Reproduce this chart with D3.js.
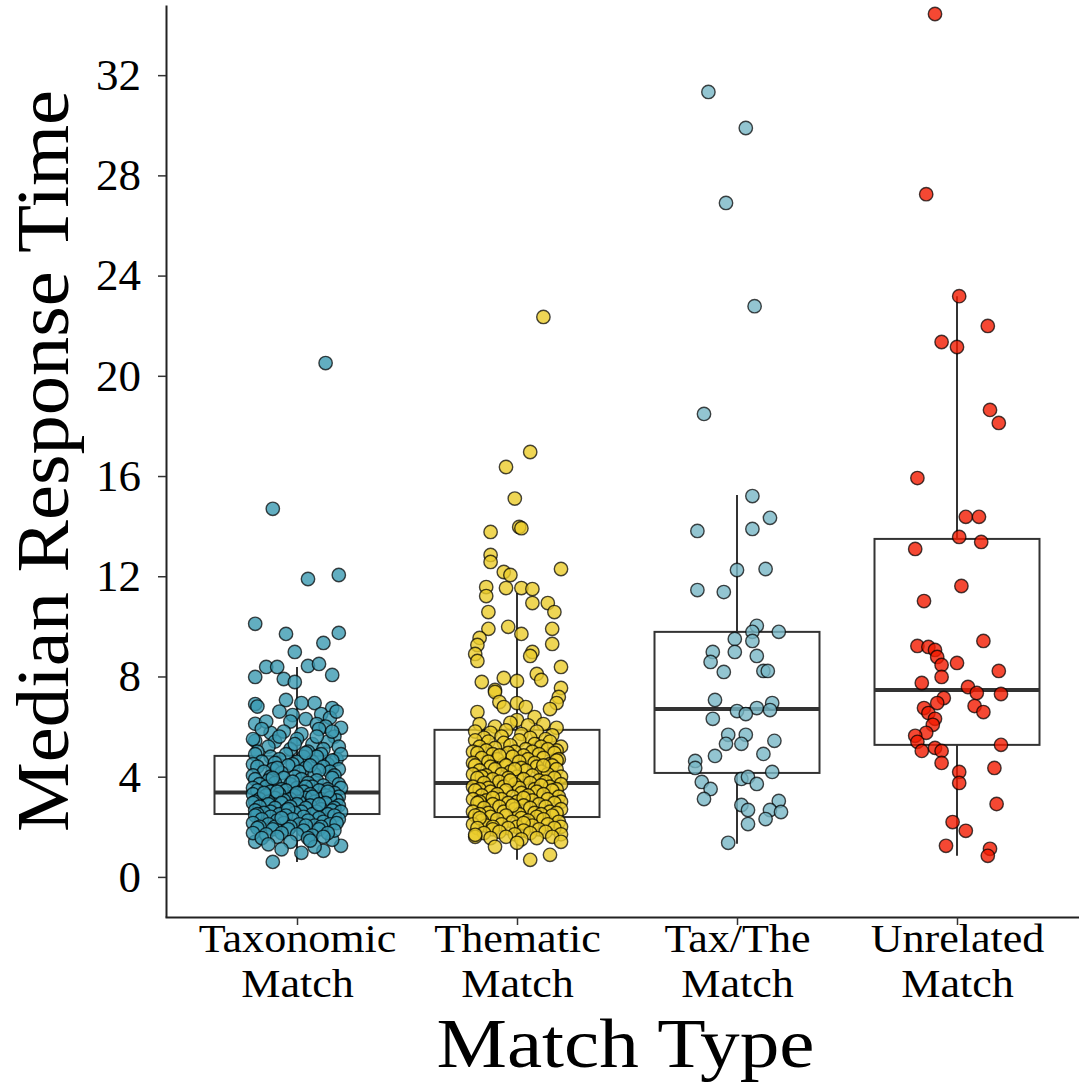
<!DOCTYPE html>
<html>
<head>
<meta charset="utf-8">
<script src="https://cdn.jsdelivr.net/npm/d3@7"></script>
<style>
  html, body { margin: 0; padding: 0; background: #ffffff; }
  svg { display: block; }
  text { font-family: "Liberation Serif", "DejaVu Serif", serif; fill: #000; }
</style>
</head>
<body>
<svg id="chart" width="1079" height="1082"></svg>
<script>
// ---- data -------------------------------------------------------------
const categories = ["Taxonomic Match", "Thematic Match", "Tax/The Match", "Unrelated Match"];
const categoryLines = [["Taxonomic", "Match"], ["Thematic", "Match"], ["Tax/The", "Match"], ["Unrelated", "Match"]];
const yTicks = [0, 4, 8, 12, 16, 20, 24, 28, 32];

// boxplot summaries: [lower whisker, Q1, median, Q3, upper whisker]
const taxonomicBox = [0.60, 2.51, 3.37, 4.83, 8.38];
const thematicBox  = [0.68, 2.39, 3.75, 5.87, 11.33];
const taxTheBox    = [1.32, 4.15, 6.70, 9.78, 15.24];
const unrelatedBox = [0.84, 5.27, 7.46, 13.49, 23.18];

// observations: [horizontal jitter in category units, median response time]
const taxonomicPoints = [
  [0.13,20.51],[-0.11,14.69],[0.05,11.89],[0.19,12.05],[-0.19,10.10],[-0.05,9.70],[0.19,9.74],[0.12,9.34],
  [-0.01,8.98],[-0.14,8.38],[-0.09,8.38],[0.05,8.42],[0.10,8.50],[0.16,8.06],[-0.19,7.98],[-0.06,7.90],[-0.01,7.78],
  [-0.19,6.90],[-0.18,6.80],[-0.05,7.06],[0.08,6.94],[0.02,6.94],[0.16,6.74],[0.11,6.50],[0.15,6.35],[-0.02,6.46],
  [-0.19,6.11],[0.20,5.95],[-0.19,5.43],[-0.12,5.75],
  [-0.19,1.40],[-0.11,0.60],[0.02,0.96],[0.12,1.04],[0.20,1.24],[0.16,1.48],
  [-0.08,6.6],[0.04,6.3],[-0.14,6.2],[0.09,6.1],[0.18,6.6],[-0.03,6.2],[0.13,6.0],
  [-0.16,5.9],[-0.06,5.8],[0.02,5.7],[0.10,5.9],[0.17,5.6],[-0.20,5.5],[-0.10,5.4],[0.00,5.5],[0.07,5.3],[0.14,5.4],
  [-0.13,5.2],[-0.03,5.1],[0.05,5.0],[0.12,5.1],[0.19,5.2],[-0.18,5.0],[-0.08,5.6],[0.16,5.8],[-0.01,5.3],[0.09,5.6],
  [-0.19,4.9],[-0.12,4.8],[-0.05,4.9],[0.03,4.8],[0.11,4.9],[0.18,4.7],[-0.16,4.6],[-0.08,4.7],[0.00,4.6],[0.07,4.6],
  [0.14,4.5],[0.20,4.9],[-0.20,4.5],[-0.02,4.5],[0.09,4.8],[-0.10,4.55],[0.16,4.65],[0.04,4.95],
  [-0.18,4.4],[-0.11,4.3],[-0.04,4.45],[0.04,4.35],[0.12,4.4],[0.19,4.3],[-0.15,4.2],[-0.07,4.15],[0.01,4.2],[0.08,4.1],
  [0.15,4.2],[-0.20,4.05],[-0.12,4.0],[-0.01,4.0],[0.06,4.45],[0.17,4.05],[-0.09,4.35],[0.10,4.25],
  [-0.19,3.9],[-0.13,3.85],[-0.06,3.95],[0.02,3.9],[0.09,3.85],[0.16,3.95],[-0.17,3.7],[-0.10,3.75],[-0.03,3.7],
  [0.05,3.75],[0.12,3.65],[0.19,3.7],[-0.20,3.55],[-0.14,3.6],[-0.07,3.5],[0.00,3.55],[0.07,3.6],[0.14,3.5],[0.20,3.55],
  [-0.11,3.95],[0.04,3.6],[-0.02,3.8],
  [-0.18,3.45],[-0.12,3.4],[-0.05,3.45],[0.03,3.4],[0.10,3.45],[0.17,3.35],[-0.20,3.3],[-0.14,3.25],[-0.08,3.3],
  [-0.01,3.25],[0.06,3.3],[0.13,3.25],[0.19,3.2],[-0.17,3.1],[-0.10,3.15],[-0.03,3.1],[0.04,3.15],[0.11,3.1],[0.18,3.05],
  [-0.19,3.0],[-0.13,3.0],[-0.06,3.05],[0.01,3.0],[0.08,3.0],[0.15,3.15],[-0.09,3.4],[0.14,3.4],[-0.15,3.35],[0.00,3.35],[0.07,3.2],
  [-0.20,2.95],[-0.13,2.9],[-0.07,2.95],[0.00,2.9],[0.06,2.85],[0.13,2.95],[0.19,2.85],[-0.17,2.8],[-0.10,2.75],
  [-0.03,2.8],[0.04,2.75],[0.11,2.7],[0.17,2.75],[-0.19,2.65],[-0.12,2.6],[-0.05,2.65],[0.02,2.6],[0.09,2.6],[0.16,2.65],
  [-0.15,2.55],[-0.08,2.5],[-0.01,2.55],[0.07,2.5],[0.14,2.5],[0.20,2.6],[-0.04,2.7],[0.10,2.9],[-0.18,2.5],
  [-0.19,2.45],[-0.12,2.4],[-0.05,2.45],[0.03,2.4],[0.10,2.35],[0.17,2.45],[-0.16,2.3],[-0.09,2.25],[-0.02,2.3],
  [0.05,2.25],[0.12,2.2],[0.19,2.3],[-0.20,2.15],[-0.13,2.1],[-0.06,2.15],[0.01,2.1],[0.08,2.05],[0.15,2.1],
  [-0.17,2.0],[-0.10,2.0],[-0.03,2.0],[0.04,2.05],[0.11,2.0],[0.18,2.15],[-0.07,2.35],
  [-0.18,1.95],[-0.11,1.9],[-0.04,1.9],[0.03,1.85],[0.10,1.9],[0.17,1.85],[-0.20,1.75],[-0.14,1.7],[-0.07,1.75],
  [0.00,1.7],[0.07,1.65],[0.14,1.75],[-0.16,1.55],[-0.09,1.6],[0.05,1.55],[0.12,1.6],
  [-0.13,1.3],[-0.03,1.4],[0.08,1.2],[0.06,1.45],[-0.07,1.1]
];

const thematicPoints = [
  [0.12,22.35],[0.06,16.96],[-0.05,16.36],[-0.01,15.10],[-0.12,13.77],[0.01,13.97],[0.02,13.92],[-0.12,12.85],
  [-0.12,12.57],[-0.06,12.17],[-0.03,12.05],[0.20,12.29],[-0.14,11.57],[-0.14,11.21],[-0.05,11.53],[0.02,11.53],
  [0.07,11.49],[0.07,10.93],[0.14,10.93],[0.17,10.57],[-0.13,10.57],[-0.13,9.90],[-0.04,9.98],[0.02,9.70],[0.16,9.90],
  [-0.17,9.54],[-0.18,9.26],[-0.19,8.90],[-0.18,8.62],[0.07,8.98],[0.06,8.82],[0.16,9.30],[0.20,8.38],[-0.16,7.78],
  [-0.06,7.94],[0.00,7.82],[0.09,8.10],[0.11,7.86],[-0.10,7.46],[0.20,7.54],[-0.10,7.38],[0.19,7.18],[0.18,6.94],
  [-0.08,6.98],[-0.06,6.78],[0.00,6.94],[0.04,6.78],[0.15,6.70],[-0.18,6.58],[0.08,6.38],[0.00,6.26],
  [-0.17,6.1],[-0.10,6.0],[-0.03,6.15],[0.05,6.05],[0.12,6.1],[0.18,5.95],[-0.19,5.8],[-0.12,5.75],[-0.05,5.85],
  [0.02,5.7],[0.09,5.8],[0.16,5.65],[-0.15,5.55],[-0.07,5.6],[0.06,5.55],[0.13,5.5],
  [-0.19,5.45],[-0.13,5.4],[-0.06,5.35],[0.01,5.45],[0.08,5.3],[0.15,5.4],[0.20,5.2],[-0.17,5.2],[-0.10,5.15],
  [-0.03,5.25],[0.04,5.1],[0.11,5.2],[0.18,5.05],[-0.20,5.0],[-0.14,5.05],[-0.01,5.0],[0.07,5.0],[0.14,5.1],
  [-0.18,4.95],[-0.11,4.9],[-0.04,4.95],[0.03,4.85],[0.10,4.9],[0.17,4.95],[-0.16,4.75],[-0.09,4.7],[-0.02,4.8],
  [0.05,4.7],[0.12,4.75],[0.19,4.7],[-0.20,4.55],[-0.13,4.6],[-0.06,4.5],[0.01,4.6],[0.08,4.55],[0.15,4.5],[0.18,4.65],[-0.08,4.85],
  [-0.19,4.45],[-0.12,4.4],[-0.05,4.45],[0.02,4.35],[0.09,4.4],[0.16,4.45],[-0.17,4.25],[-0.10,4.3],[-0.03,4.2],
  [0.04,4.25],[0.11,4.2],[0.18,4.3],[-0.20,4.1],[-0.14,4.05],[-0.07,4.1],[0.00,4.0],[0.07,4.05],[0.14,4.1],[0.20,4.0],
  [-0.01,4.3],[0.12,4.45],[-0.16,4.0],
  [-0.18,3.95],[-0.11,3.9],[-0.04,3.95],[0.03,3.9],[0.10,3.85],[0.17,3.95],[-0.15,3.75],[-0.08,3.8],[-0.01,3.7],
  [0.06,3.75],[0.13,3.8],[0.20,3.7],[-0.20,3.6],[-0.13,3.55],[-0.06,3.6],[0.01,3.55],[0.08,3.5],[0.15,3.6],
  [-0.17,3.5],[-0.03,3.85],[0.11,3.65],[0.18,3.5],
  [-0.19,3.45],[-0.12,3.4],[-0.05,3.45],[0.02,3.35],[0.09,3.4],[0.16,3.45],[-0.16,3.25],[-0.09,3.3],[-0.02,3.2],
  [0.05,3.25],[0.12,3.3],[0.19,3.2],[-0.20,3.1],[-0.14,3.05],[-0.07,3.1],[0.00,3.0],[0.07,3.05],[0.14,3.1],[0.20,3.0],
  [-0.11,3.15],[0.03,3.15],[-0.17,3.0],
  [-0.18,2.95],[-0.11,2.9],[-0.04,2.95],[0.03,2.85],[0.10,2.9],[0.17,2.95],[-0.15,2.75],[-0.08,2.8],[-0.01,2.7],
  [0.06,2.75],[0.13,2.8],[0.20,2.7],[-0.20,2.6],[-0.13,2.55],[-0.06,2.6],[0.01,2.5],[0.08,2.55],[0.15,2.6],
  [-0.17,2.5],[0.11,2.5],[-0.02,2.85],[0.18,2.55],
  [-0.19,2.45],[-0.12,2.4],[-0.05,2.45],[0.02,2.35],[0.09,2.4],[0.16,2.45],[-0.16,2.25],[-0.09,2.3],[-0.02,2.2],
  [0.05,2.25],[0.12,2.3],[0.19,2.2],[-0.20,2.1],[-0.14,2.05],[-0.07,2.1],[0.00,2.0],[0.07,2.05],[0.14,2.1],[0.20,2.0],
  [-0.11,2.0],[0.03,2.15],[-0.17,2.35],
  [-0.18,1.95],[-0.11,1.9],[-0.04,1.95],[0.03,1.85],[0.10,1.9],[0.17,1.95],[-0.15,1.75],[-0.08,1.8],[-0.01,1.7],
  [0.06,1.75],[0.13,1.8],[0.20,1.7],[-0.19,1.6],[-0.12,1.55],[-0.05,1.6],[0.02,1.5],[0.09,1.55],[0.16,1.6],
  [-0.19,1.68],[-0.10,1.20],[0.00,1.36],[0.20,1.40],[0.15,0.88],[0.06,0.68]
];

const taxThePoints = [
  [-0.13,31.33],[0.04,29.89],[-0.05,26.90],[0.08,22.78],[-0.15,18.48],
  [0.07,15.20],[0.15,14.33],[-0.18,13.81],[0.07,13.89],[0.00,12.25],[0.13,12.29],[-0.18,11.45],[-0.06,11.37],
  [0.09,10.02],[0.07,9.78],[0.19,9.78],[0.07,9.42],[-0.01,9.50],[-0.11,8.98],[-0.01,8.98],[0.09,8.82],[-0.12,8.58],
  [-0.06,8.18],[0.12,8.22],[0.14,8.22],[-0.10,7.06],[0.16,6.94],[0.09,6.74],[0.15,6.66],[0.00,6.62],[0.04,6.50],
  [-0.11,6.31],[-0.04,5.67],[0.04,5.67],[-0.05,5.31],[0.02,5.31],[0.17,5.43],[-0.10,4.83],[0.12,4.91],[-0.19,4.63],
  [-0.19,4.35],[0.16,4.19],[0.02,3.91],[0.05,3.99],[0.09,3.71],[-0.16,3.79],[-0.12,3.51],[-0.15,3.11],[0.02,2.87],
  [0.05,2.67],[0.19,3.03],[0.15,2.67],[0.20,2.59],[0.13,2.31],[0.05,2.11],[-0.04,1.36]
];

const unrelatedPoints = [
  [-0.10,34.44],[-0.14,27.25],[0.01,23.18],[0.14,21.99],[-0.07,21.35],[0.00,21.15],[0.15,18.64],[0.19,18.12],
  [-0.18,15.92],[0.04,14.37],[0.10,14.37],[0.01,13.57],[0.11,13.37],[-0.19,13.09],[0.02,11.61],[-0.15,11.01],
  [-0.18,9.22],[-0.13,9.18],[-0.10,9.06],[-0.09,8.78],[-0.07,8.46],[0.12,9.42],[0.00,8.54],[0.19,8.22],[-0.07,7.98],
  [-0.16,7.74],[0.05,7.58],[0.09,7.34],[0.20,7.30],[-0.06,7.14],[-0.09,6.94],[-0.15,6.74],[0.08,6.82],[0.12,6.58],
  [-0.13,6.54],[-0.10,6.31],[-0.11,6.07],[-0.14,5.75],[-0.19,5.63],[-0.18,5.39],[-0.10,5.15],[-0.07,5.03],
  [-0.16,5.03],[0.20,5.27],[-0.07,4.55],[0.17,4.35],[0.01,4.19],[0.01,3.75],[0.18,2.91],[-0.02,2.19],[0.04,1.84],
  [-0.05,1.24],[0.15,1.12],[0.14,0.84]
];

// ---- styling ----------------------------------------------------------
const palette = ["#3B9AB2", "#EBCC2A", "#78B7C5", "#F21A00"];
const groups = [
  { key: categories[0], points: taxonomicPoints, box: taxonomicBox },
  { key: categories[1], points: thematicPoints,  box: thematicBox },
  { key: categories[2], points: taxThePoints,    box: taxTheBox },
  { key: categories[3], points: unrelatedPoints, box: unrelatedBox }
];

const svg = d3.select("#chart");
const panel = { left: 166, right: 1089, top: 5, bottom: 917 };

const x = d3.scalePoint().domain(categories).range([panel.left - 1, panel.right]).padding(0.6);
const step = x.step();
const y = d3.scaleLinear().domain([-1.6, 34.8]).range([panel.bottom, panel.top]);
const color = d3.scaleOrdinal().domain(categories).range(palette);

const boxWidth = step * 0.75;

// ---- boxplots ---------------------------------------------------------
const boxG = svg.append("g").attr("class", "boxes");
groups.forEach(g => {
  const [lo, q1, med, q3, hi] = g.box;
  const cx = x(g.key);
  const gg = boxG.append("g");
  gg.append("line").attr("x1", cx).attr("x2", cx).attr("y1", y(q3)).attr("y2", y(hi))
    .attr("stroke", "#333").attr("stroke-width", 2);
  gg.append("line").attr("x1", cx).attr("x2", cx).attr("y1", y(q1)).attr("y2", y(lo))
    .attr("stroke", "#333").attr("stroke-width", 2);
  gg.append("rect").attr("x", cx - boxWidth / 2).attr("width", boxWidth)
    .attr("y", y(q3)).attr("height", y(q1) - y(q3))
    .attr("fill", "#fff").attr("stroke", "#333").attr("stroke-width", 2);
  gg.append("line").attr("x1", cx - boxWidth / 2).attr("x2", cx + boxWidth / 2)
    .attr("y1", y(med)).attr("y2", y(med))
    .attr("stroke", "#333").attr("stroke-width", 4);
});

// ---- jittered points --------------------------------------------------
const ptG = svg.append("g").attr("class", "points");
groups.forEach(g => {
  ptG.append("g").selectAll("circle")
    .data(g.points)
    .join("circle")
    .attr("cx", d => x(g.key) + d[0] * step)
    .attr("cy", d => y(d[1]))
    .attr("r", 6.7)
    .attr("fill", color(g.key))
    .attr("fill-opacity", 0.8)
    .attr("stroke", "#000")
    .attr("stroke-opacity", 0.72)
    .attr("stroke-width", 1.4);
});

// ---- axes -------------------------------------------------------------
const yAxis = svg.append("g")
  .attr("transform", `translate(${panel.left},0)`)
  .call(d3.axisLeft(y).tickValues(yTicks).tickSize(8).tickSizeOuter(0).tickPadding(17));
yAxis.select(".domain").attr("stroke", "#222").attr("stroke-width", 2);
yAxis.selectAll(".tick line").attr("stroke", "#333").attr("stroke-width", 1.5);
yAxis.selectAll(".tick text")
  .attr("font-family", "Liberation Serif, serif")
  .attr("font-size", 45)
  .attr("fill", "#000");

// two-line category labels, widened slightly to the label width of the print font
const labelSize = 41, labelStretch = 1.075;
const xAxis = svg.append("g")
  .attr("transform", `translate(0,${panel.bottom})`)
  .call(d3.axisBottom(x).tickSize(8).tickSizeOuter(0));
xAxis.select(".domain").attr("stroke", "#222").attr("stroke-width", 2);
xAxis.selectAll(".tick line").attr("stroke", "#333").attr("stroke-width", 1.5);
xAxis.selectAll(".tick text").each(function(d, i) {
  const t = d3.select(this);
  t.text(null).attr("y", 0).attr("dy", null)
    .attr("font-family", "Liberation Serif, serif")
    .attr("font-size", labelSize)
    .attr("fill", "#000");
  categoryLines[i].forEach((line, k) => {
    const ts = t.append("tspan").attr("x", 0).attr("y", 35 + k * 45).text(line);
    const w = ts.node().getComputedTextLength();
    ts.attr("textLength", w * labelStretch).attr("lengthAdjust", "spacingAndGlyphs");
  });
});

// ---- axis titles ------------------------------------------------------
svg.append("text")
  .attr("x", (panel.left + panel.right) / 2 - 2)
  .attr("y", 1067)
  .attr("text-anchor", "middle")
  .attr("font-size", 69)
  .attr("textLength", 378)
  .attr("lengthAdjust", "spacingAndGlyphs")
  .text("Match Type");

svg.append("text")
  .attr("transform", `translate(68,${(panel.top + panel.bottom) / 2})rotate(-90)`)
  .attr("text-anchor", "middle")
  .attr("font-size", 75)
  .attr("textLength", 742)
  .attr("lengthAdjust", "spacingAndGlyphs")
  .text("Median Response Time");
</script>
</body>
</html>
